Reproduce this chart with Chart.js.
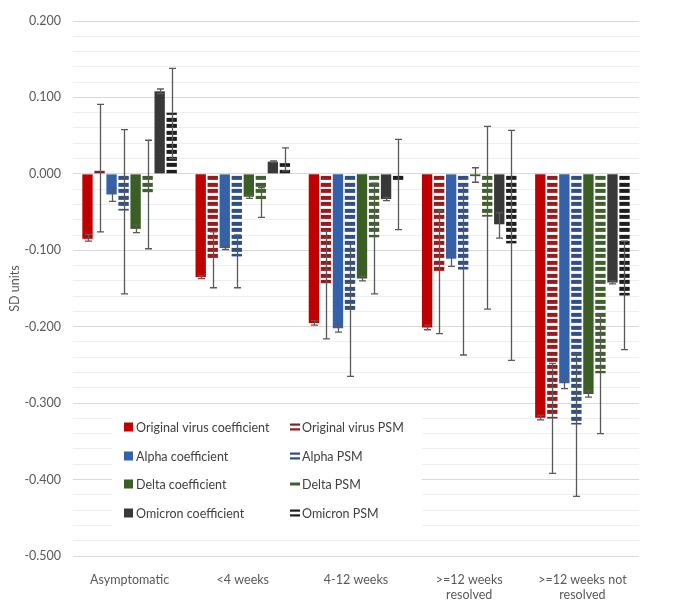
<!DOCTYPE html>
<html><head><meta charset="utf-8">
<script src="https://cdn.jsdelivr.net/npm/chart.js@4.4.0/dist/chart.umd.min.js"></script>
<style>html,body{margin:0;padding:0;background:#fff;}</style>
</head><body>
<canvas id="c" width="673" height="604"></canvas>
<script>
// ---------- DATA ----------
const categories = ['Asymptomatic', '<4 weeks', '4-12 weeks', ['>=12 weeks', 'resolved'], ['>=12 weeks not', 'resolved']];

const origCoef    = [-0.085, -0.135, -0.195, -0.201, -0.319];
const origCoefLo  = [-0.088, -0.137, -0.198, -0.204, -0.322];
const origCoefHi  = [-0.079, -0.133, -0.192, -0.198, -0.316];
const origPsm     = [0.004, -0.112, -0.143, -0.127, -0.320];
const origPsmLo   = [-0.076, -0.149, -0.216, -0.209, -0.392];
const origPsmHi   = [0.091, -0.076, -0.075, -0.048, -0.248];

const alphaCoef   = [-0.027, -0.097, -0.202, -0.111, -0.274];
const alphaCoefLo = [-0.036, -0.099, -0.207, -0.121, -0.281];
const alphaCoefHi = [-0.018, -0.095, -0.197, -0.101, -0.267];
const alphaPsm    = [-0.048, -0.108, -0.178, -0.125, -0.328];
const alphaPsmLo  = [-0.157, -0.149, -0.265, -0.237, -0.422];
const alphaPsmHi  = [0.058, -0.080, -0.091, -0.015, -0.235];

const deltaCoef   = [-0.072, -0.030, -0.137, -0.003, -0.288];
const deltaCoefLo = [-0.077, -0.032, -0.140, -0.011, -0.292];
const deltaCoefHi = [-0.067, -0.028, -0.134, 0.008, -0.284];
const deltaPsm    = [-0.024, -0.033, -0.083, -0.056, -0.261];
const deltaPsmLo  = [-0.098, -0.057, -0.157, -0.177, -0.340];
const deltaPsmHi  = [0.044, -0.018, -0.012, 0.062, -0.184];

const omiCoef     = [0.108, 0.016, -0.033, -0.066, -0.142];
const omiCoefLo   = [0.105, 0.015, -0.035, -0.084, -0.144];
const omiCoefHi   = [0.111, 0.017, -0.031, -0.051, -0.140];
const omiPsm      = [0.080, 0.014, -0.010, -0.091, -0.159];
const omiPsmLo    = [0.020, 0.004, -0.073, -0.244, -0.230];
const omiPsmHi    = [0.138, 0.034, 0.045, 0.057, -0.088];

const seriesNames = ['Original virus coefficient', 'Original virus PSM', 'Alpha coefficient', 'Alpha PSM',
                     'Delta coefficient', 'Delta PSM', 'Omicron coefficient', 'Omicron PSM'];

// ---------- STYLE ----------
const canvas = document.getElementById('c');
const ctx = canvas.getContext('2d');
const patterns = [];
function stripes(color) {
  const c = document.createElement('canvas');
  c.width = 4; c.height = 13;
  const g = c.getContext('2d');
  g.fillStyle = '#ffffff'; g.fillRect(0, 0, 4, 13);
  g.fillStyle = color; g.fillRect(0, 0, 4, 4); g.fillRect(0, 7, 4, 4);
  const p = ctx.createPattern(c, 'repeat');
  patterns.push(p);
  return p;
}
const colors = {
  orig: '#C00000', origP: '#951B1E',
  alpha: '#3461A8', alphaP: '#2F4F85',
  delta: '#3A5E26', deltaP: '#3F5F2C',
  omi: '#383838', omiP: '#1E1E1E'
};

function ds(label, data, lo, hi, bg, markerColor, psm) {
  return { label, data, errLo: lo, errHi: hi, backgroundColor: bg, borderWidth: 0,
           markerColor, psm, categoryPercentage: 0.85, barPercentage: 0.86 };
}
const datasets = [
  ds(seriesNames[0], origCoef, origCoefLo, origCoefHi, colors.orig, colors.orig, false),
  ds(seriesNames[1], origPsm, origPsmLo, origPsmHi, stripes(colors.origP), colors.origP, true),
  ds(seriesNames[2], alphaCoef, alphaCoefLo, alphaCoefHi, colors.alpha, colors.alpha, false),
  ds(seriesNames[3], alphaPsm, alphaPsmLo, alphaPsmHi, stripes(colors.alphaP), colors.alphaP, true),
  ds(seriesNames[4], deltaCoef, deltaCoefLo, deltaCoefHi, colors.delta, colors.delta, false),
  ds(seriesNames[5], deltaPsm, deltaPsmLo, deltaPsmHi, stripes(colors.deltaP), colors.deltaP, true),
  ds(seriesNames[6], omiCoef, omiCoefLo, omiCoefHi, colors.omi, colors.omi, false),
  ds(seriesNames[7], omiPsm, omiPsmLo, omiPsmHi, stripes(colors.omiP), colors.omiP, true)
];

const patternAlign = {
  id: 'patternAlign',
  beforeDatasetsDraw(chart) {
    const y0 = chart.scales.y.getPixelForValue(0);
    patterns.forEach(p => { if (p.setTransform) p.setTransform(new DOMMatrix([1, 0, 0, 1, 0, y0 + 2])); });
  }
};

const errorBars = {
  id: 'errorBars',
  afterDatasetsDraw(chart) {
    const c = chart.ctx, ys = chart.scales.y;
    c.save();
    c.strokeStyle = '#595959';
    c.lineWidth = 1.3;
    chart.data.datasets.forEach((d, i) => {
      const meta = chart.getDatasetMeta(i);
      meta.data.forEach((el, j) => {
        const x = Math.round(el.x) + 0.5;
        const a = ys.getPixelForValue(d.errLo[j]);
        const b = ys.getPixelForValue(d.errHi[j]);
        c.beginPath();
        c.moveTo(x, a); c.lineTo(x, b);
        c.moveTo(x - 3.5, a); c.lineTo(x + 3.5, a);
        c.moveTo(x - 3.5, b); c.lineTo(x + 3.5, b);
        c.stroke();
      });
    });
    c.restore();
  }
};

const insideLegend = {
  id: 'insideLegend',
  afterDraw(chart) {
    const c = chart.ctx;
    c.save();
    c.fillStyle = '#ffffff';
    c.fillRect(112, 412, 310, 118);
    const colX = [124, 290];
    const rowY = [427, 456, 484, 513];
    c.font = '12.5px Lato, "Open Sans", sans-serif';
    c.textBaseline = 'middle';
    chart.data.datasets.forEach((d, i) => {
      const col = i % 2, row = Math.floor(i / 2);
      const x = colX[col], y = rowY[row];
      c.fillStyle = d.markerColor;
      if (!d.psm) {
        c.fillRect(x, y - 4.5, 9, 9);
      } else if (i === 5) {
        c.fillRect(x, y - 1.5, 10, 3);
      } else {
        c.fillRect(x, y - 3.5, 10, 2.2);
        c.fillRect(x, y + 1.3, 10, 2.2);
      }
      c.fillStyle = '#404040';
      c.fillText(d.label, x + 12, y + 0.5);
    });
    c.restore();
  }
};

new Chart(canvas, {
  type: 'bar',
  data: { labels: categories, datasets },
  plugins: [patternAlign, errorBars, insideLegend],
  options: {
    responsive: false,
    animation: false,
    layout: { padding: { left: 0, right: 34, top: 21, bottom: 0 } },
    plugins: { legend: { display: false }, tooltip: { enabled: false } },
    scales: {
      x: {
        grid: { display: false },
        border: { display: false },
        ticks: { color: '#595959', font: { family: 'Lato, "Open Sans", sans-serif', size: 12.5 }, maxRotation: 0, autoSkip: false, padding: 8 },
        afterFit(s) { s.height = 48; }
      },
      y: {
        min: -0.5, max: 0.2,
        border: { display: false },
        grid: {
          drawTicks: false,
          color(ctx) {
            const v = ctx.tick.value;
            return Math.abs(v * 10 - Math.round(v * 10)) < 1e-6 ? '#d9d9d9' : '#eeeeee';
          },
          lineWidth: 1
        },
        ticks: {
          stepSize: 0.02, autoSkip: false, padding: 12,
          color: '#595959', font: { family: 'Lato, "Open Sans", sans-serif', size: 12.5 },
          callback(v) {
            return Math.abs(v * 10 - Math.round(v * 10)) < 1e-6 ? (Math.round(v * 10) / 10).toFixed(3) : '';
          }
        },
        title: { display: true, text: 'SD units', color: '#595959', font: { family: 'Lato, "Open Sans", sans-serif', size: 12.5 }, padding: { top: 7, bottom: 0 } },
        afterFit(s) { s.width = 73; }
      }
    }
  }
});
</script>
</body></html>
